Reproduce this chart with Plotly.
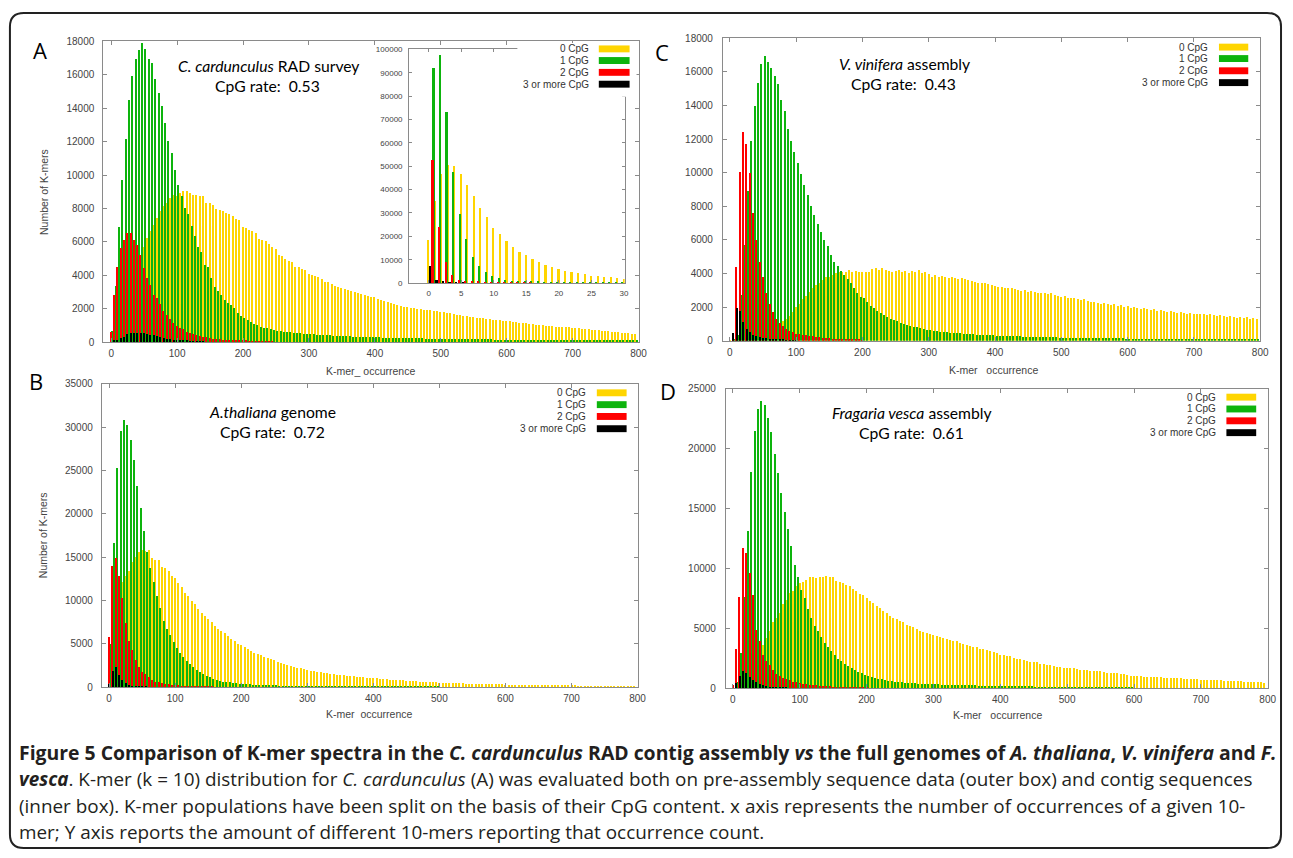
import plotly.graph_objects as go

W, H = 1293, 858

# ---------------- data ----------------
occ = list(range(0, 800, 5))          # K-mer occurrence bins (outer plots)
inset_occ = list(range(0, 31))        # K-mer occurrence (inset, contigs)

series_names = ["0 CpG", "1 CpG", "2 CpG", "3 or more CpG"]
y_ticks_A = list(range(0, 18001, 2000))
y_ticks_B = list(range(0, 35001, 5000))
y_ticks_C = list(range(0, 18001, 2000))
y_ticks_D = list(range(0, 25001, 5000))
x_ticks = list(range(0, 801, 100))
inset_x_ticks = list(range(0, 31, 5))
inset_y_ticks = list(range(0, 100001, 10000))

# Panel A - C. cardunculus RAD survey
a_cpg0 = [300, 600, 1000, 1500, 2100, 2700, 3300, 3900, 4500, 5100,
          5700, 6200, 6600, 7000, 7400, 7800, 8100, 8300, 8600, 8800,
          8700, 8900, 9000, 9000, 8900, 8800, 8800, 8700, 8750, 8300,
          8300, 8200, 7950, 7900, 7850, 7700, 7650, 7500, 7350, 7300,
          6850, 6800, 6700, 6600, 6500, 6150, 6100, 6000, 5850, 5700,
          5550, 5200, 5150, 4950, 4850, 4800, 4500, 4450, 4350, 4300,
          4050, 4000, 3950, 3850, 3750, 3600, 3550, 3450, 3350, 3300,
          3200, 3150, 3100, 3050, 2950, 2900, 2850, 2800, 2750, 2700,
          2650, 2550, 2500, 2450, 2350, 2300, 2250, 2200, 2150, 2100,
          2050, 2020, 1990, 1970, 1940, 1920, 1890, 1870, 1850, 1820,
          1800, 1760, 1720, 1700, 1660, 1620, 1600, 1570, 1540, 1500,
          1480, 1450, 1420, 1400, 1370, 1350, 1320, 1300, 1280, 1260,
          1250, 1220, 1200, 1170, 1150, 1120, 1100, 1080, 1050, 1030,
          1000, 990, 970, 950, 930, 910, 900, 880, 870, 860,
          850, 820, 800, 780, 760, 740, 720, 700, 680, 660,
          640, 620, 600, 580, 560, 540, 520, 500, 480, 470]
a_cpg1 = [650, 3350, 6850, 9700, 12150, 14450, 15900, 16950, 17450, 17900,
          17500, 16950, 16700, 15700, 14900, 14100, 13100, 12000, 11300, 10300,
          9400, 8750, 8000, 7650, 6950, 6300, 5650, 5350, 4600, 4500,
          3800, 3300, 3050, 2800, 2500, 2300, 2200, 2000, 1750, 1550,
          1450, 1300, 1200, 1050, 1000, 900, 850, 800, 750, 700,
          650, 620, 600, 580, 560, 540, 520, 500, 490, 480,
          460, 450, 430, 420, 400, 390, 380, 370, 360, 350,
          340, 330, 320, 310, 300, 300, 290, 280, 280, 270,
          260, 260, 250, 250, 240, 240, 230, 230, 220, 220,
          210, 210, 200, 200, 200, 190, 190, 190, 180, 180,
          180, 170, 170, 170, 160, 160, 160, 160, 150, 150,
          150, 150, 140, 140, 140, 140, 130, 130, 130, 130,
          130, 120, 120, 120, 120, 120, 110, 110, 110, 110,
          110, 110, 100, 100, 100, 100, 100, 100, 90, 90,
          90, 90, 90, 90, 90, 80, 80, 80, 80, 80,
          80, 80, 70, 70, 70, 70, 70, 70, 70, 60]
a_cpg2 = [600, 2800, 4500, 5600, 6100, 6500, 6500, 6100, 5800, 5200,
          4400, 3800, 3400, 2800, 2600, 2250, 1850, 1600, 1350, 1100,
          950, 850, 750, 600, 550, 450, 400, 320, 300, 260,
          220, 190, 160, 140, 120, 100, 90, 80, 70, 60,
          50, 45, 40, 35, 30, 25, 20, 20, 15, 10]
a_cpg3 = [0, 50, 100, 200, 300, 450, 500, 520, 510, 500,
          500, 470, 430, 380, 320, 260, 220, 180, 150, 120,
          100, 80, 60, 50, 40, 30, 20, 15, 10]

# Inset of panel A - contig sequences
ins_cpg0 = [18300, 35000, 46300, 50400, 50000, 46300, 41800, 37300, 32000, 28000,
            23500, 20900, 18000, 15400, 13300, 11700, 10000, 8800, 7700, 6800,
            5900, 5000, 4400, 4100, 3600, 3000, 2800, 2500, 2300, 2000, 1700]
ins_cpg1 = [92000, 97500, 73000, 47500, 29500, 18500, 11000, 7000, 4700, 3000,
            1900, 1300, 900, 600, 500, 400, 300, 250, 200, 150,
            130, 100, 90, 80, 70, 60, 50, 40, 40, 30]
ins_cpg2 = [52500, 24000, 9000, 3500, 1200, 600, 400, 300, 200, 150,
            100, 80, 60, 50, 40, 30]
ins_cpg3 = [7000, 1300, 500, 200, 100, 50]

# Panel B - A. thaliana genome
b_cpg0 = [700, 3000, 7100, 10700, 12200, 12900, 13450, 14500, 15080, 15640,
          15830, 15760, 15830, 14900, 14700, 14700, 13940, 13800, 13450, 12800,
          12600, 12050, 11550, 10900, 10530, 9960, 9580, 9020, 8640, 8260,
          7880, 7500, 7120, 6740, 6550, 6250, 5980, 5600, 5340, 5040,
          4850, 4660, 4470, 4200, 4020, 3900, 3710, 3520, 3410, 3220,
          3140, 2950, 2840, 2690, 2580, 2460, 2390, 2270, 2200, 2120,
          2010, 1930, 1860, 1820, 1740, 1700, 1630, 1550, 1520, 1480,
          1440, 1400, 1360, 1330, 1290, 1250, 1200, 1170, 1130, 1100,
          1060, 1030, 1000, 970, 940, 910, 880, 850, 820, 800,
          770, 750, 720, 700, 680, 660, 640, 620, 600, 580,
          560, 550, 530, 520, 500, 490, 470, 460, 450, 440,
          430, 420, 410, 400, 390, 380, 370, 360, 350, 340,
          330, 325, 320, 310, 305, 300, 295, 290, 285, 280,
          275, 270, 265, 260, 255, 250, 245, 240, 235, 230,
          225, 222, 218, 215, 212, 208, 205, 200, 198, 195,
          192, 190, 186, 183, 180, 177, 174, 170, 167, 164]
b_cpg1 = [5000, 16700, 25300, 29600, 30800, 30300, 28500, 26200, 23200, 20700,
          18000, 15600, 13800, 12200, 10500, 9200, 7700, 6700, 6000, 5200,
          4500, 4000, 3500, 3100, 2700, 2300, 2000, 1750, 1500, 1350,
          1150, 950, 870, 760, 680, 640, 570, 530, 480, 440,
          400, 370, 340, 320, 300, 280, 260, 250, 240, 230,
          220, 210, 200, 195, 190, 185, 180, 175, 170, 165,
          160, 155, 150, 145, 140, 135, 130, 125, 120, 118,
          115, 112, 110, 107, 105, 102, 100, 98, 96, 94,
          92, 90, 88, 86, 84, 82, 80, 78, 76, 74,
          72, 70, 68, 66, 65, 64, 63, 62, 61, 60]
b_cpg2 = [5800, 13950, 14900, 12800, 10300, 7400, 5400, 4300, 3150, 2400,
          1800, 1500, 1250, 800, 680, 570, 490, 420, 360, 300,
          260, 220, 190, 160, 140, 120, 100, 90, 80, 70,
          60, 50, 45, 40, 35, 30]
b_cpg3 = [400, 1850, 2400, 1400, 900, 500, 300, 200, 150, 100,
          80, 60, 40, 30, 20]

# Panel C - V. vinifera assembly
c_cpg0 = [20, 40, 60, 80, 100, 130, 160, 200, 240, 280,
          330, 400, 480, 600, 750, 950, 1150, 1300, 1450, 1700,
          2000, 2200, 2450, 2650, 2900, 3100, 3300, 3450, 3600, 3750,
          3800, 3900, 4000, 4050, 4100, 4100, 4180, 4100, 4150, 4100,
          4050, 4100, 4050, 4250, 4300, 4200, 4300, 4200, 4150, 4100,
          4150, 4200, 4100, 4150, 4000, 4150, 4050, 4200, 4000, 4100,
          3950, 3800, 3900, 3750, 3850, 3800, 3700, 3750, 3700, 3650,
          3700, 3650, 3600, 3550, 3500, 3450, 3400, 3400, 3350, 3300,
          3250, 3200, 3200, 3150, 3100, 3150, 3050, 3000, 2950, 3000,
          2900, 2950, 2900, 2850, 2800, 2850, 2750, 2800, 2700, 2650,
          2600, 2650, 2550, 2500, 2500, 2450, 2400, 2450, 2350, 2300,
          2300, 2250, 2200, 2250, 2150, 2100, 2150, 2050, 2100, 2000,
          2050, 1950, 2000, 1950, 1900, 1950, 1850, 1800, 1850, 1750,
          1800, 1750, 1700, 1750, 1700, 1650, 1700, 1650, 1600, 1650,
          1600, 1550, 1600, 1550, 1500, 1550, 1500, 1450, 1500, 1450,
          1400, 1450, 1400, 1350, 1400, 1350, 1400, 1300, 1350, 1300]
c_cpg1 = [0, 50, 300, 2700, 5700, 8900, 11900, 13950, 15350, 16450,
          16950, 16600, 16200, 15750, 15250, 14300, 13650, 12600, 11850, 11200,
          10550, 9900, 9250, 8650, 8000, 7450, 6950, 6450, 6000, 5600,
          5100, 4700, 4450, 4150, 3900, 3650, 3400, 3100, 2850, 2600,
          2500, 2300, 2050, 1950, 1750, 1650, 1500, 1400, 1300, 1200,
          1150, 1050, 1000, 950, 870, 830, 780, 740, 700, 650,
          600, 580, 550, 530, 510, 490, 470, 450, 430, 420,
          400, 390, 380, 360, 350, 340, 330, 320, 310, 300,
          290, 280, 270, 265, 260, 250, 245, 240, 230, 225,
          220, 215, 210, 205, 200, 195, 190, 185, 180, 175,
          170, 165, 160, 158, 155, 152, 150, 148, 145, 142,
          140, 138, 135, 132, 130, 128, 125, 122, 120, 118,
          116, 114, 112, 110, 108, 106, 104, 102, 100, 98,
          96, 95, 94, 92, 90, 89, 88, 86, 85, 84,
          82, 81, 80, 79, 78, 76, 75, 74, 73, 72,
          71, 70, 69, 68, 67, 66, 65, 64, 63, 62]
c_cpg2 = [0, 400, 4400, 10000, 12400, 11700, 9950, 7600, 6000, 4700,
          3750, 2800, 2200, 1700, 1300, 1050, 880, 700, 580, 480,
          400, 360, 330, 300, 270, 240, 210, 180, 160, 140,
          120, 100, 90, 80, 70, 60, 50, 45, 40, 35, 30]
c_cpg3 = [0, 450, 1950, 1750, 1100, 700, 480, 330, 250, 200,
          160, 130, 100, 80, 60, 50, 40, 30, 25, 20, 15]

# Panel D - Fragaria vesca assembly
d_cpg0 = [100, 300, 600, 900, 1200, 1600, 2000, 2500, 3000, 3600,
          4200, 4800, 5500, 5900, 6300, 7000, 7400, 7950, 8100, 8500,
          8800, 8900, 9050, 9250, 9250, 9200, 9250, 9300, 9350, 9250,
          9300, 8950, 8900, 8800, 8650, 8500, 8250, 8100, 7850, 7750,
          7550, 7300, 7100, 6900, 6700, 6450, 6300, 6050, 5900, 5750,
          5600, 5500, 5300, 5200, 5100, 4950, 4800, 4700, 4650, 4550,
          4450, 4350, 4250, 4200, 4100, 4050, 3980, 3900, 3800, 3700,
          3600, 3550, 3450, 3400, 3300, 3250, 3150, 3100, 3000, 2900,
          2800, 2750, 2700, 2650, 2550, 2450, 2400, 2350, 2300, 2200,
          2200, 2150, 2050, 2000, 1950, 1950, 1850, 1800, 1750, 1700,
          1700, 1650, 1650, 1600, 1550, 1550, 1500, 1450, 1450, 1400,
          1400, 1350, 1300, 1300, 1250, 1250, 1200, 1150, 1100, 1050,
          1000, 1000, 980, 970, 950, 950, 930, 900, 900, 880,
          880, 860, 850, 830, 820, 800, 790, 770, 760, 740,
          720, 710, 700, 690, 670, 660, 650, 640, 620, 610,
          580, 570, 560, 550, 540, 530, 520, 500, 480, 460]
d_cpg1 = [0, 500, 2900, 7600, 13100, 18100, 21500, 23300, 24000, 23700,
          22600, 21400, 19600, 18000, 16300, 14700, 13300, 11900, 10300, 9300,
          8200, 7550, 6600, 5900, 5200, 4800, 4250, 3800, 3450, 3100,
          2750, 2450, 2250, 2000, 1850, 1650, 1500, 1350, 1250, 1100,
          1000, 930, 850, 800, 740, 690, 630, 600, 550, 520,
          490, 460, 440, 420, 400, 380, 360, 350, 340, 330,
          320, 310, 300, 290, 280, 270, 260, 250, 245, 240,
          235, 230, 225, 220, 215, 210, 205, 200, 195, 190,
          185, 180, 175, 170, 165, 160, 155, 150, 145, 140,
          138, 135, 132, 130, 128, 125, 122, 120, 118, 115,
          112, 110, 108, 106, 104, 102, 100, 98, 96, 94,
          92, 90, 88, 86, 85, 84, 83, 82, 81, 80]
d_cpg2 = [250, 3300, 7600, 11700, 11300, 9650, 7750, 4850, 3900, 2800,
          2300, 1900, 1500, 1200, 1000, 850, 750, 650, 550, 480,
          420, 370, 330, 290, 260, 230, 200, 180, 160, 140,
          120, 100, 90, 80, 70, 60, 50, 45, 40, 35, 30]
d_cpg3 = [0, 400, 1000, 1450, 1300, 950, 700, 500, 350, 250,
          180, 130, 100, 80, 60, 40, 30]

# ---------------- styling ----------------
COLORS = ["#FFD500", "#0DB40D", "#FF0000", "#000000"]
# bar (offset, width) in occurrence units, per series
MAIN_BARS = [(-1.0, 1.9), (1.6, 1.8), (-1.0, 1.8), (-0.8, 1.6)]
INSET_BARS = [(-0.12, 0.25), (0.68, 0.25), (0.53, 0.25), (0.13, 0.25)]

TICK_FONT = dict(family="Liberation Sans, Arial, sans-serif", size=10, color="#444444")
AX_COLOR = "#8a8a8a"


def px_x(p):
    return p / W


def px_y(p):
    return 1 - p / H


fig = go.Figure()

panels = [
    ("x", "y", [a_cpg0, a_cpg1, a_cpg2, a_cpg3]),
    ("x2", "y2", [b_cpg0, b_cpg1, b_cpg2, b_cpg3]),
    ("x3", "y3", [c_cpg0, c_cpg1, c_cpg2, c_cpg3]),
    ("x4", "y4", [d_cpg0, d_cpg1, d_cpg2, d_cpg3]),
]
for xa, ya, series in panels:
    for i, vals in enumerate(series):
        off, wd = MAIN_BARS[i]
        fig.add_trace(go.Bar(x=occ[:len(vals)], y=vals, offset=off, width=wd,
                             marker=dict(color=COLORS[i], line=dict(width=0)),
                             name=series_names[i], showlegend=False,
                             xaxis=xa, yaxis=ya))

for i, vals in enumerate([ins_cpg0, ins_cpg1, ins_cpg2, ins_cpg3]):
    off, wd = INSET_BARS[i]
    fig.add_trace(go.Bar(x=inset_occ[:len(vals)], y=vals, offset=off, width=wd,
                         marker=dict(color=COLORS[i], line=dict(width=0)),
                         name=series_names[i], showlegend=False,
                         xaxis="x5", yaxis="y5"))


def axis(domain, rng, tickvals, anchor, font=TICK_FONT, standoff=2, ticklen=4):
    return dict(domain=domain, range=rng, tickvals=tickvals, anchor=anchor,
                showline=True, linecolor=AX_COLOR, linewidth=1, mirror="ticks",
                ticks="inside", ticklen=ticklen, tickcolor=AX_COLOR, tickwidth=1,
                showgrid=False, zeroline=False, tickfont=font, tickformat="d",
                ticklabelstandoff=standoff, fixedrange=True)


boxes = {
    # name: (left, right, top, bottom) in px
    "A": (104, 643, 36, 341),
    "B": (102.5, 642, 383.3, 691),
    "C": (728, 1269, 32.7, 339.5),
    "D": (731, 1277, 388.3, 691.7),
    "I": (412, 629, 44, 281),
}


def dom(b):
    l, r, t, bt = boxes[b]
    return [px_x(l), px_x(r)], [px_y(bt), px_y(t)]


layout = dict(width=W, height=H, margin=dict(l=0, r=0, t=0, b=0),
              paper_bgcolor="white", plot_bgcolor="rgba(0,0,0,0)",
              barmode="overlay", bargap=0, showlegend=False)

xd, yd = dom("A")
layout["xaxis"] = axis(xd, [-12, 800], x_ticks, "y")
layout["yaxis"] = axis(yd, [0, 18000], y_ticks_A, "x", standoff=6)
xd, yd = dom("B")
layout["xaxis2"] = axis(xd, [-11, 800], x_ticks, "y2")
layout["yaxis2"] = axis(yd, [0, 35000], y_ticks_B, "x2", standoff=6)
xd, yd = dom("C")
layout["xaxis3"] = axis(xd, [-10.5, 800], x_ticks, "y3")
layout["yaxis3"] = axis(yd, [0, 18000], y_ticks_C, "x3", standoff=7)
xd, yd = dom("D")
layout["xaxis4"] = axis(xd, [-10.4, 800.6], x_ticks, "y4")
layout["yaxis4"] = axis(yd, [0, 25000], y_ticks_D, "x4", standoff=7)
small_font = dict(family="Liberation Sans, Arial, sans-serif", size=8, color="#444444")
xd, yd = dom("I")
layout["xaxis5"] = axis(xd, [-3, 30.1], inset_x_ticks, "y5", font=small_font, ticklen=3)
layout["yaxis5"] = axis(yd, [0, 100000], inset_y_ticks, "x5", font=small_font, ticklen=3, standoff=4)

fig.update_layout(**layout)

shapes = []
annotations = []

# rounded outer frame
fl, ft, fr, fb, rad = 10, 7, 1290, 854, 14
path = (f"M {px_x(fl + rad)},{px_y(ft)} L {px_x(fr - rad)},{px_y(ft)} "
        f"Q {px_x(fr)},{px_y(ft)} {px_x(fr)},{px_y(ft + rad)} "
        f"L {px_x(fr)},{px_y(fb - rad)} Q {px_x(fr)},{px_y(fb)} {px_x(fr - rad)},{px_y(fb)} "
        f"L {px_x(fl + rad)},{px_y(fb)} Q {px_x(fl)},{px_y(fb)} {px_x(fl)},{px_y(fb - rad)} "
        f"L {px_x(fl)},{px_y(ft + rad)} Q {px_x(fl)},{px_y(ft)} {px_x(fl + rad)},{px_y(ft)} Z")
shapes.append(dict(type="path", path=path, xref="paper", yref="paper",
                   line=dict(color="#222222", width=2), fillcolor="rgba(0,0,0,0)"))

# white legend box inside panel A (covers the inset frame corner)
shapes.append(dict(type="rect", xref="paper", yref="paper", layer="above",
                   x0=px_x(521), x1=px_x(641), y0=px_y(92), y1=px_y(37.5),
                   fillcolor="white", line=dict(width=0)))


def legend(text_right, sw0, sw1, rows):
    for i, yy in enumerate(rows):
        annotations.append(dict(x=px_x(text_right), y=px_y(yy), xref="paper", yref="paper",
                                text=series_names[i], showarrow=False, xanchor="right",
                                yanchor="middle", font=dict(family="Liberation Sans, Arial",
                                                            size=10, color="#333333")))
        shapes.append(dict(type="rect", xref="paper", yref="paper", layer="above",
                           x0=px_x(sw0), x1=px_x(sw1), y0=px_y(yy + 3.5), y1=px_y(yy - 3.5),
                           fillcolor=COLORS[i], line=dict(width=0)))


legend(595, 603, 634, [43.5, 55.3, 67.3, 79.3])
legend(1218, 1227.5, 1257, [41.7, 53.3, 65.7, 77.7])
legend(592.5, 601, 631, [392.3, 404.3, 416.3, 428.7])
legend(1226.8, 1235, 1265, [396.7, 408.7, 420.7, 432.7])


def text(x, y, s, size, color="#000000", family="Lato, Open Sans, sans-serif",
         xanchor="center", angle=0):
    annotations.append(dict(x=px_x(x), y=px_y(y), xref="paper", yref="paper", text=s,
                            showarrow=False, xanchor=xanchor, yanchor="middle",
                            textangle=angle, font=dict(family=family, size=size, color=color)))


# panel labels
for lab, (lx, ly) in {"A": (40, 45), "B": (36, 380), "C": (667, 47), "D": (673, 390)}.items():
    text(lx, ly, lab, 22, family="Open Sans, sans-serif")

# panel annotations
text(270, 61, "<i>C. cardunculus</i> RAD survey", 15.7)
text(269, 81, "CpG rate:  0.53", 15.7)
text(274, 412, "<i>A.thaliana</i> genome", 15.7)
text(274, 432, "CpG rate:  0.72", 15.7)
text(911, 59, "<i>V. vinifera</i> assembly", 15.7)
text(910, 79, "CpG rate:  0.43", 15.7)
text(918, 413, "<i>Fragaria vesca</i> assembly", 15.7)
text(918, 433, "CpG rate:  0.61", 15.7)

# axis titles
axf = "Liberation Sans, Arial, sans-serif"
text(373, 370, "K-mer_ occurrence", 10.5, color="#444444", family=axf)
text(372, 718, "K-mer  occurrence", 10.5, color="#444444", family=axf)
text(1000, 369, "K-mer   occurrence", 10.5, color="#444444", family=axf)
text(1004, 719, "K-mer   occurrence", 10.5, color="#444444", family=axf)
text(45, 189, "Number of K-mers", 10.5, color="#444444", family=axf, angle=-90)
text(44, 537, "Number of K-mers", 10.5, color="#444444", family=axf, angle=-90)

# caption
cap_font = "Open Sans, sans-serif"
cap_lines = [
    "<b>Figure 5 Comparison of K-mer spectra in the <i>C. cardunculus</i> RAD contig assembly "
    "<i>vs</i> the full genomes of <i>A. thaliana</i>, <i>V. vinifera</i> and <i>F.</i></b>",
    "<b><i>vesca</i></b>. K-mer (k = 10) distribution for <i>C. cardunculus</i> (A) was evaluated "
    "both on pre-assembly sequence data (outer box) and contig sequences",
    "(inner box). K-mer populations have been split on the basis of their CpG content. x axis "
    "represents the number of occurrences of a given 10-",
    "mer; Y axis reports the amount of different 10-mers reporting that occurrence count.",
]
cap_sizes = [19.4, 18.9, 18.9, 18.9]
for i, line in enumerate(cap_lines):
    text(17, 757 + 27 * i, line, cap_sizes[i], color="#231f20", family=cap_font, xanchor="left")

fig.update_layout(shapes=shapes, annotations=annotations)
fig.write_html("out.html", config={"displayModeBar": False},
               post_script="document.body.style.margin='0';document.body.style.overflow='hidden';")
